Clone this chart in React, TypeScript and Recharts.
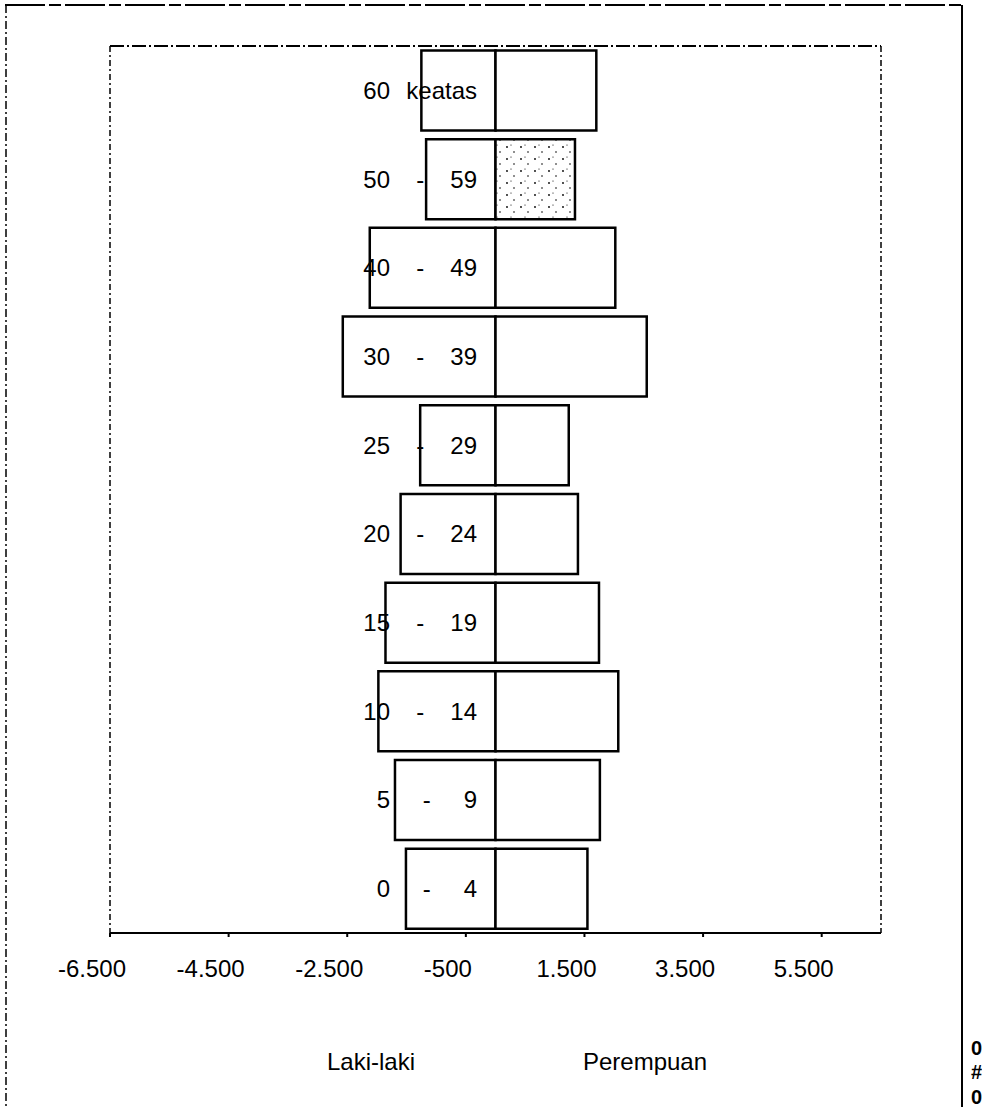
import { BarChart, Bar, XAxis, YAxis, Cell } from 'recharts'

// kelompok umur, dari atas ke bawah
const ageFrom = ['60', '50', '40', '30', '25', '20', '15', '10', '5', '0']
const ageTo = ['keatas', '59', '49', '39', '29', '24', '19', '14', '9', '4']
const lakiLaki = [1250, 1170, 2120, 2575, 1270, 1600, 1855, 1975, 1695, 1510]
const perempuan = [1700, 1340, 2020, 2550, 1235, 1390, 1745, 2070, 1760, 1550]
const xTicks = [-6500, -4500, -2500, -500, 1500, 3500, 5500]

const FONT = '"Liberation Sans", Arial, sans-serif'

const data = ageFrom.map((from, i) => ({
    age: ageTo[i] === 'keatas' ? `${from} keatas` : `${from} - ${ageTo[i]}`,
    from,
    to: ageTo[i],
    laki: -lakiLaki[i],
    perempuan: perempuan[i],
}))

// format angka gaya Indonesia: -6.500
const fmt = (v: number) => {
    const s = String(Math.abs(v)).replace(/\B(?=(\d{3})+(?!\d))/g, '.')
    return (v < 0 ? '-' : '') + s
}

const XTick = (props: any) => {
    const { x, y, payload } = props
    return (
        <text x={x - 18} y={y} dy="0.71em" textAnchor="middle" fontSize={24} fontFamily={FONT} fill="#000">
            {fmt(payload.value)}
        </text>
    )
}

const AgeTick = (props: any) => {
    const { y, payload } = props
    const row = data.find((d) => d.age === payload.value)
    if (!row) return null
    const single = row.to === 'keatas'
    const rightStart = 477 - row.to.length * 13.3
    return (
        <g fontSize={24} fontFamily={FONT} fill="#000">
            <text x={390} y={y} dy="0.355em" textAnchor="end">{row.from}</text>
            {!single && (
                <text x={(390 + rightStart) / 2} y={y} dy="0.355em" textAnchor="middle">-</text>
            )}
            <text x={477} y={y} dy="0.355em" textAnchor="end">{row.to}</text>
        </g>
    )
}

export default function App() {
    return (
        <div style={{ position: 'absolute', left: 0, top: 0, width: 982, height: 1107, background: '#fff' }}>
            <svg width={0} height={0} style={{ position: 'absolute' }}>
                <defs>
                    <pattern id="speckle" width="14" height="12" patternUnits="userSpaceOnUse">
                        <rect width="14" height="12" fill="#fff" />
                        <circle cx="3" cy="3" r="0.9" fill="#000" />
                        <circle cx="10" cy="8" r="0.8" fill="#000" />
                        <circle cx="7" cy="1" r="0.6" fill="#000" />
                    </pattern>
                </defs>
            </svg>
            <BarChart
                width={982}
                height={1107}
                data={data}
                layout="vertical"
                stackOffset="sign"
                barCategoryGap="5%"
                margin={{ top: 45, right: 100, bottom: 114, left: 109 }}
            >
                <XAxis
                    type="number"
                    domain={[-6500, 6500]}
                    ticks={xTicks}
                    allowDataOverflow
                    height={60}
                    tick={<XTick />}
                    tickSize={4}
                    tickMargin={23}
                    axisLine={{ stroke: '#000', strokeWidth: 2 }}
                    tickLine={{ stroke: '#000', strokeWidth: 2 }}
                />
                <XAxis
                    xAxisId="top"
                    orientation="top"
                    type="number"
                    domain={[-6500, 6500]}
                    height={1}
                    tick={false}
                    tickLine={false}
                    axisLine={{ stroke: '#000', strokeWidth: 2, strokeDasharray: '14 3 2 3' }}
                />
                <YAxis
                    type="category"
                    dataKey="age"
                    width={1}
                    tick={<AgeTick />}
                    tickLine={false}
                    interval={0}
                    axisLine={{ stroke: '#000', strokeWidth: 1.5, strokeDasharray: '6 3 2 3' }}
                />
                <YAxis
                    yAxisId="right"
                    orientation="right"
                    type="category"
                    dataKey="age"
                    width={1}
                    tick={false}
                    tickLine={false}
                    axisLine={{ stroke: '#000', strokeWidth: 1.5, strokeDasharray: '6 3 2 3' }}
                />
                <Bar dataKey="laki" stackId="a" fill="#fff" stroke="#000" strokeWidth={2.5} isAnimationActive={false} />
                <Bar dataKey="perempuan" stackId="a" fill="#fff" stroke="#000" strokeWidth={2.5} isAnimationActive={false}>
                    {data.map((d, i) => (
                        <Cell key={`p-${i}`} fill={d.from === '50' ? 'url(#speckle)' : '#fff'} />
                    ))}
                </Bar>
            </BarChart>
            <svg
                width={982}
                height={1107}
                style={{ position: 'absolute', left: 0, top: 0, pointerEvents: 'none' }}
                fontFamily={FONT}
            >
                <line x1={5} y1={5} x2={962} y2={5} stroke="#000" strokeWidth={2} strokeDasharray="40 4 12 4" />
                <line x1={6} y1={5} x2={6} y2={1107} stroke="#000" strokeWidth={1.5} strokeDasharray="8 3 2 3" />
                <line x1={962} y1={5} x2={962} y2={1107} stroke="#000" strokeWidth={2} />
                <text x={371} y={1070} textAnchor="middle" fontSize={24}>Laki-laki</text>
                <text x={645} y={1070} textAnchor="middle" fontSize={24}>Perempuan</text>
                <g fontSize={20} fontWeight="bold" fontFamily='"Liberation Sans Narrow", "Liberation Sans", sans-serif'>
                    <text x={971} y={1055}>0</text>
                    <text x={971} y={1079}>#</text>
                    <text x={971} y={1104}>0</text>
                </g>
            </svg>
        </div>
    )
}
